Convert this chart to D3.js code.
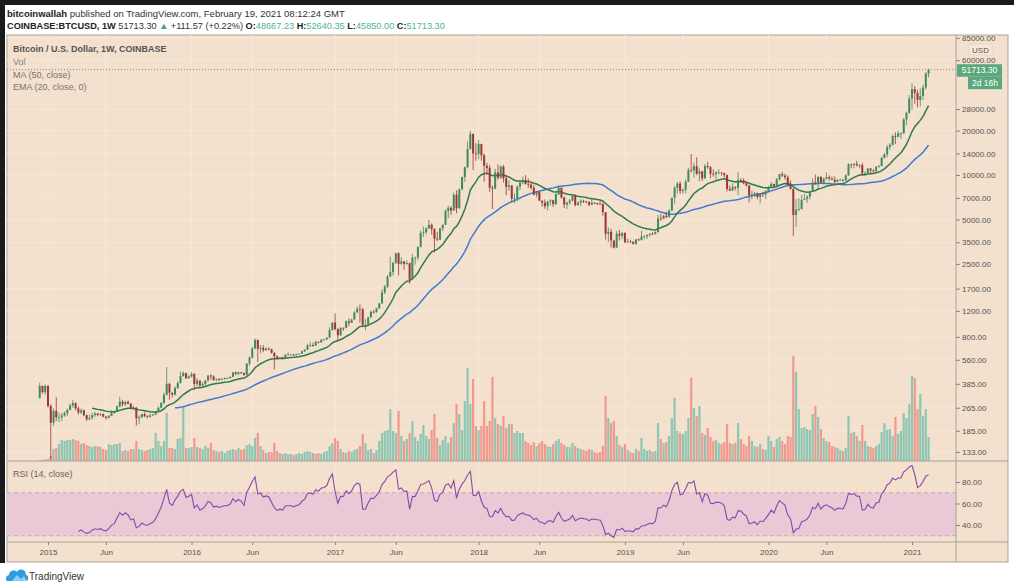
<!DOCTYPE html>
<html>
<head>
<meta charset="utf-8">
<script src="https://cdn.jsdelivr.net/npm/d3@7"></script>
<style>
  body { margin: 0; background: #fff; }
  svg { display: block; font-family: "Liberation Sans", Arial, sans-serif; }
</style>
</head>
<body>
<div id="chart"></div>
<script>
// weekly COINBASE:BTCUSD bars, first bar is the week of 2014-12-15
var firstWeek = "2014-12-15";
var firstOpen = 310;

var closes = [
  372, 338, 372,
  // 2015
  272, 210, 252, 228, 228, 235, 244, 256, 275, 285, 262, 246, 254, 236, 222, 226, 236, 242, 237, 240, 230,
  226, 233, 245, 250, 270, 291, 280, 290, 282, 262, 265, 225, 229, 240, 232, 230, 235, 238, 248, 265, 285, 325,
  385, 335, 325, 360, 390, 435, 455, 420, 432,
  // 2016
  448, 383, 405, 375, 384, 405, 438, 432, 410, 416, 410, 416, 420, 420, 429, 460, 449, 462, 456, 442, 528, 580,
  668, 762, 665, 675, 650, 665, 660, 625, 590, 570, 580, 574, 606, 608, 608, 602, 612, 617, 640, 655, 700, 705,
  700, 740, 735, 765, 770, 790, 890, 1000,
  // 2017
  905, 822, 922, 920, 1020, 997, 1050, 1170, 1240, 1230, 965, 965, 1085, 1185, 1180, 1250, 1350,
  1600, 1750, 2050, 2200, 2550, 2950, 2500, 2600, 2500, 2530, 1950, 2750, 2760, 3250,
  4050, 4100, 4350, 4600, 4300, 3700, 3650, 4350, 4600, 5700, 6000, 5750, 7350,
  5950, 8000, 9700, 11300, 15000, 19000, 14000, 13900,
  // 2018
  16200, 13600, 11550, 11200, 8200, 8100, 10400, 9600, 11400, 9500, 8300, 8500, 6900,
  6950, 8340, 8900, 9250, 8700, 8600, 8200, 7360, 7700, 6700, 6500, 6150, 6620,
  6750, 6350, 7400, 8200, 7050, 6300, 6500, 6700, 7290, 6250, 6500, 6700, 6600,
  6550, 6280, 6480, 6450, 6380, 6350, 5600, 4000, 4120, 3600, 3220, 4000, 3870, 4050,
  // 2019
  3510, 3540, 3530, 3420, 3660, 3620, 3830, 3850, 3930, 4000, 3980, 4100,
  5070, 5060, 5300, 5200, 5750, 7000, 8200, 8750, 7800, 7950, 9000, 10800, 10750,
  11470, 10200, 10580, 9500, 11500, 11300, 10200, 10140, 10400,
  10400, 10300, 10000, 8050, 7850, 8300, 8200, 9250, 9200, 8800, 8500, 7300, 7400,
  7520, 7100, 7500, 7400, 7760,
  // 2020
  8180, 8700, 8400, 9330, 10150, 9920, 9660, 8530, 8030, 5360, 5820, 5880, 6780,
  6910, 7130, 7700, 8900, 8700, 9700, 8900, 9450, 9670, 9450, 9300, 9000, 9280,
  9300, 9200, 9950, 11800, 11700, 11900, 11650, 11650, 10250, 10330, 11080, 10740, 10670,
  11380, 11500, 13030, 13800, 15480, 16050, 18370, 18180, 19150, 19150, 23850, 26450, 32980,
  // 2021
  38200, 36000, 32280, 34300, 39250, 48667.23, 51713.30
];

var highs = [
  392, 376, 382,
  378, 280, 262, 312, 245, 245, 250, 262, 282, 298, 288, 270, 262, 258, 238, 238, 245, 248, 245, 244, 242,
  232, 237, 255, 252, 274, 315, 300, 295, 297, 285, 273, 268, 236, 241, 247, 236, 241, 241, 250, 270, 290, 335,
  500, 390, 335, 370, 400, 465, 468, 458, 440,
  462, 455, 420, 400, 395, 408, 440, 445, 440, 418, 420, 420, 426, 424, 432, 462, 467, 465, 462, 458, 530, 590,
  685, 780, 770, 705, 705, 680, 680, 665, 628, 600, 585, 585, 610, 628, 612, 612, 615, 620, 644, 660, 720, 740,
  730, 755, 745, 775, 778, 795, 930, 1005,
  1155, 915, 925, 925, 1035, 1070, 1060, 1195, 1290, 1330, 1260, 1060, 1100, 1210, 1215, 1260, 1360,
  1680, 1800, 2100, 2790, 2580, 2980, 3000, 2780, 2600, 2640, 2550, 2920, 2800, 3290,
  4200, 4480, 4450, 4980, 4700, 4370, 4100, 4390, 4620, 5860, 6200, 6140, 7600,
  7870, 8100, 9720, 11400, 16900, 19891, 19050, 16500,
  17250, 16300, 14000, 12100, 11700, 8500, 11000, 11800, 11600, 11700, 9950, 9180, 8500,
  7500, 8500, 9050, 9750, 9980, 9450, 8900, 8520, 7760, 7750, 6730, 6830, 6680,
  6850, 6800, 7530, 8500, 8200, 7150, 6590, 6880, 7400, 7420, 6630, 6850, 6800,
  6680, 6640, 7000, 6560, 6480, 6630, 6470, 5600, 4420, 4320, 3600, 4180, 4250, 4100,
  4100, 3720, 3640, 3560, 3680, 3720, 4200, 3900, 3950, 4020, 4100, 4150,
  5350, 5470, 5350, 5640, 5850, 7050, 8390, 8950, 9090, 8120, 9350, 11200, 13880,
  12100, 13200, 11100, 10660, 11880, 12300, 11500, 10950, 10650,
  10900, 10450, 10350, 10050, 8500, 8800, 8400, 10500, 9500, 9500, 8850, 8500, 7850,
  7700, 7600, 7520, 7700, 7900,
  8450, 9000, 8750, 9560, 10160, 10500, 10200, 9960, 9200, 8180, 6900, 6980, 7300,
  7460, 7290, 7800, 9480, 10070, 9900, 9850, 9600, 10430, 9970, 9800, 9800, 9380,
  9470, 9350, 10100, 12050, 11950, 12050, 12480, 11800, 12090, 10580, 11100, 10800, 10960,
  11480, 11730, 13350, 14100, 15960, 16480, 18800, 19480, 19920, 19400, 24300, 26850, 34800,
  41950, 40100, 37850, 38600, 40950, 49700, 52640.35
];

var lows = [
  305, 330, 325,
  265, 118, 200, 215, 212, 215, 230, 232, 255, 265, 255, 238, 240, 232, 215, 218, 220, 230, 232, 233, 228,
  220, 224, 232, 240, 248, 266, 270, 272, 280, 258, 255, 200, 205, 225, 228, 224, 227, 232, 236, 245, 262, 280,
  320, 300, 312, 320, 355, 385, 430, 415, 418,
  425, 360, 370, 366, 364, 370, 400, 410, 402, 400, 402, 406, 410, 415, 418, 428, 440, 440, 448, 436, 438, 510,
  570, 660, 540, 620, 630, 645, 650, 615, 480, 565, 565, 565, 568, 600, 600, 594, 598, 608, 615, 630, 652, 680,
  685, 695, 725, 730, 755, 765, 790, 885,
  885, 755, 810, 880, 915, 945, 995, 1050, 1170, 1000, 940, 890, 955, 1080, 1155, 1165, 1240,
  1340, 1560, 1720, 2050, 2080, 2490, 2090, 2450, 2280, 2460, 1830, 1950, 2470, 2660,
  3250, 3800, 3950, 4310, 3950, 2980, 3560, 3620, 4170, 4600, 5100, 5370, 5800,
  5510, 6500, 7900, 9000, 11100, 14900, 10800, 12500,
  12800, 12500, 9000, 10000, 7700, 5870, 8000, 9300, 9400, 8900, 7300, 7800, 6580,
  6440, 6620, 7900, 8660, 8600, 8180, 7950, 7270, 7050, 6650, 6090, 5900, 5750,
  6220, 6070, 6260, 7300, 6900, 5970, 5880, 6280, 6650, 6120, 6220, 6150, 6450,
  6460, 6150, 6300, 6380, 6250, 6320, 5300, 3650, 3500, 3230, 3180, 3220, 3600, 3680,
  3450, 3480, 3470, 3370, 3360, 3560, 3610, 3670, 3690, 3820, 3940, 3950,
  4100, 4900, 5020, 5100, 5150, 5680, 6400, 7500, 7450, 7450, 7540, 8950, 10400,
  9630, 9960, 9070, 9120, 9400, 11000, 9500, 9750, 9350,
  10100, 9900, 9620, 7720, 7770, 7780, 7880, 7300, 8970, 8660, 8350, 6520, 6860,
  7080, 6850, 6430, 7100, 6880,
  7720, 8100, 8240, 8270, 9160, 9700, 9280, 8410, 8000, 3860, 4440, 5700, 5850,
  6750, 6470, 6840, 7700, 8600, 8100, 8800, 8630, 9300, 9150, 9220, 8830, 8950,
  9130, 9000, 9130, 9900, 11080, 11130, 11390, 11130, 9880, 9830, 10200, 10130, 10370,
  10520, 11200, 11460, 12980, 13200, 14830, 15780, 16200, 18000, 17600, 19000, 21800, 26000,
  27700, 30400, 28750, 29200, 32300, 37990, 45850
];

// weekly volume, thousand BTC
var volumes = [
  2, 2, 3,
  4, 10, 24, 26, 34, 42, 40, 42, 42, 44, 42, 40, 34, 36, 32, 30, 28, 30, 30, 28, 24, 22, 34, 32,
  34, 34, 36, 20, 22, 20, 24, 24, 40, 24, 22, 20, 22, 24, 26, 56, 40, 30, 40, 96, 26, 26, 24, 44, 46, 110, 26, 26,
  28, 46, 28, 26, 24, 30, 26, 36, 22, 20, 18, 20, 16, 20, 22, 24, 22, 26, 22, 24, 32, 34, 30, 46, 56, 30,
  22, 16, 18, 18, 36, 20, 16, 14, 16, 14, 14, 12, 14, 16, 14, 18, 20, 18, 16, 14, 16, 14, 18, 20, 30, 36,
  46, 40, 24, 18, 16, 20, 18, 22, 24, 30, 54, 36, 22, 24, 16, 22, 40, 56, 60, 62, 104, 60, 56, 100, 50, 40,
  44, 56, 80, 48, 40, 54, 72, 50, 44, 62, 94, 46, 32, 42, 50, 36, 48, 76, 114, 94, 62, 120, 186, 114, 164, 70,
  62, 70, 120, 70, 80, 168, 86, 74, 70, 90, 66, 74, 74, 56, 60, 56, 56, 40, 36, 32, 38, 30, 36, 40, 34, 30,
  28, 34, 40, 44, 36, 32, 28, 28, 36, 30, 26, 24, 22, 20, 24, 22, 18, 16, 18, 30, 130, 86, 76, 80, 50, 32, 28,
  34, 22, 18, 16, 24, 20, 46, 24, 20, 22, 18, 20, 76, 44, 36, 38, 50, 86, 126, 60, 56, 54, 60, 86, 166, 106,
  90, 110, 56, 52, 66, 48, 40, 42, 36, 34, 38, 74, 36, 34, 36, 76, 44, 34, 30, 50, 40, 30, 28, 34, 24, 22,
  50, 40, 28, 44, 48, 40, 34, 50, 48, 210, 178, 104, 66, 68, 64, 62, 94, 110, 88, 64, 46, 40, 38, 30, 28, 26,
  22, 20, 26, 90, 56, 58, 50, 40, 72, 40, 30, 28, 26, 30, 34, 58, 76, 62, 64, 50, 88, 54, 60, 96, 86, 114,
  170, 166, 104, 134, 90, 104, 48
];

// 40000 sits under the countdown box in the reference, so it is left out
var priceTicks = [85000, 60000, 28000, 20000, 14000, 10000, 7000, 5000, 3500, 2500, 1700, 1200, 800, 560, 385, 265, 185, 133];
var rsiTicks = [80, 60, 40];
var timeTickDates = ["2015-01-05", "2015-06-01", "2016-01-04", "2016-06-06", "2017-01-02", "2017-06-05", "2018-01-01",
                     "2018-06-04", "2019-01-07", "2019-06-03", "2020-01-06", "2020-06-01", "2021-01-04"];
var timeTickLabels = ["2015", "Jun", "2016", "Jun", "2017", "Jun", "2018", "Jun", "2019", "Jun", "2020", "Jun", "2021"];

var W = 1014, H = 583;
var paneL = 7, paneR = 1008, paneT = 35, paneB = 562;
var plotR = 956, priceB = 461, rsiB = 542;

var upColor = "#3f8b5d", downColor = "#9c3832";
var volUp = "#8fc6b3", volDown = "#f0998e";

var parse = d3.utcParse("%Y-%m-%d");
var start = parse(firstWeek);
var weeks = d3.utcMonday.range(start, d3.utcDay.offset(start, 7 * closes.length));

var bars = closes.map(function (c, i) {
  var o = i ? closes[i - 1] : firstOpen;
  return {
    date: weeks[i], open: o, close: c,
    high: Math.max(highs[i], o, c), low: Math.min(lows[i], o, c),
    volume: volumes[i]
  };
});

// indicators
function sma(vals, n) {
  return vals.map(function (v, i) {
    return i < n - 1 ? null : d3.mean(vals.slice(i - n + 1, i + 1));
  });
}
function ema(vals, n) {
  var k = 2 / (n + 1), out = [], prev = null;
  vals.forEach(function (v, i) {
    if (i < n - 1) { out.push(null); return; }
    prev = prev === null ? d3.mean(vals.slice(0, n)) : v * k + prev * (1 - k);
    out.push(prev);
  });
  return out;
}
function rsi(vals, n) {
  var out = vals.map(function () { return null; });
  var g = 0, l = 0;
  for (var i = 1; i <= n; i++) { var d = vals[i] - vals[i - 1]; if (d > 0) g += d; else l -= d; }
  g /= n; l /= n;
  out[n] = 100 - 100 / (1 + g / l);
  for (var j = n + 1; j < vals.length; j++) {
    var dd = vals[j] - vals[j - 1];
    g = (g * (n - 1) + Math.max(dd, 0)) / n;
    l = (l * (n - 1) + Math.max(-dd, 0)) / n;
    out[j] = l === 0 ? 100 : 100 - 100 / (1 + g / l);
  }
  return out;
}
var ma50 = sma(closes, 50), ema20 = ema(closes, 20), rsi14 = rsi(closes, 14);

// scales
var x = d3.scaleUtc().domain([parse("2015-01-05"), parse("2021-01-04")]).range([48, 912]);
var y = d3.scaleLog().domain([120, 90000]).range([458.5, 34.2]);
var yVol = d3.scaleLinear().domain([0, d3.max(volumes)]).range([priceB, priceB - 105]);
var yRsi = d3.scaleLinear().domain([0, 100]).range([568, 460.5]);

var svg = d3.select("#chart").append("svg").attr("width", W).attr("height", H);
svg.append("rect").attr("width", W).attr("height", H).attr("fill", "#fff");
svg.append("rect").attr("width", W).attr("height", 5).attr("fill", "#1b1b1b");
svg.append("rect").attr("width", 5).attr("height", 563).attr("fill", "#1b1b1b");

// header
var h1 = svg.append("text").attr("x", 7).attr("y", 17).attr("font-size", 9.5).attr("fill", "#333");
h1.append("tspan").attr("font-weight", "bold").attr("fill", "#222").text("bitcoinwallah");
h1.append("tspan").text(" published on TradingView.com, February 19, 2021 08:12:24 GMT");

var h2 = svg.append("text").attr("x", 7).attr("y", 29).attr("font-size", 9.2).attr("fill", "#333");
var teal = "#4fb39c";
[["COINBASE:BTCUSD, 1W", "#222", "bold"], [" 51713.30 ", "#333", null], ["▲", "#3aa57a", null],
 [" +111.57 (+0.22%) ", "#333", null], ["O:", "#222", "bold"], ["48667.23", teal, null],
 [" H:", "#222", "bold"], ["52640.35", teal, null], [" L:", "#222", "bold"], ["45850.00", teal, null],
 [" C:", "#222", "bold"], ["51713.30", teal, null]].forEach(function (p) {
  h2.append("tspan").attr("fill", p[1]).attr("font-weight", p[2]).text(p[0]);
});

// pane
svg.append("rect").attr("x", paneL).attr("y", paneT).attr("width", paneR - paneL).attr("height", paneB - paneT)
  .attr("fill", "#f3e0cd").attr("stroke", "#a9a29a");

var defs = svg.append("defs");
defs.append("clipPath").attr("id", "clipPrice").append("rect")
  .attr("x", paneL).attr("y", paneT).attr("width", plotR - paneL).attr("height", priceB - paneT);
defs.append("clipPath").attr("id", "clipRsi").append("rect")
  .attr("x", paneL).attr("y", priceB).attr("width", plotR - paneL).attr("height", rsiB - priceB);
defs.append("clipPath").attr("id", "clipAxis").append("rect")
  .attr("x", plotR).attr("y", paneT).attr("width", paneR - plotR).attr("height", priceB - paneT);

// grid
var grid = svg.append("g").attr("stroke", "#f7e8da").attr("stroke-width", 1);
grid.selectAll("line.v").data(timeTickDates).join("line")
  .attr("x1", function (d) { return x(parse(d)); }).attr("x2", function (d) { return x(parse(d)); })
  .attr("y1", paneT).attr("y2", rsiB);
grid.selectAll("line.h").data(priceTicks).join("line")
  .attr("x1", paneL).attr("x2", plotR).attr("y1", function (d) { return y(d); }).attr("y2", function (d) { return y(d); })
  .attr("clip-path", "url(#clipPrice)");

// rsi band
svg.append("rect").attr("x", paneL).attr("width", plotR - paneL)
  .attr("y", yRsi(70)).attr("height", yRsi(30) - yRsi(70)).attr("fill", "#e9c9d5");
svg.selectAll("line.band").data([70, 30]).join("line")
  .attr("x1", paneL).attr("x2", plotR).attr("y1", function (d) { return yRsi(d); }).attr("y2", function (d) { return yRsi(d); })
  .attr("stroke", "#d2a3b9").attr("stroke-dasharray", "4,3");

var price = svg.append("g").attr("clip-path", "url(#clipPrice)");

// volume
price.append("g").selectAll("rect").data(bars).join("rect")
  .attr("x", function (d) { return x(d.date) - 1.1; })
  .attr("width", 2.2)
  .attr("y", function (d) { return yVol(d.volume); })
  .attr("height", function (d) { return priceB - yVol(d.volume); })
  .attr("fill", function (d) { return d.close >= d.open ? volUp : volDown; });

// moving averages
function lineOf(vals) {
  return d3.line().defined(function (d, i) { return vals[i] !== null; })
    .x(function (d) { return x(d.date); }).y(function (d, i) { return y(vals[i]); });
}
price.append("path").datum(bars).attr("d", lineOf(ma50)).attr("fill", "none")
  .attr("stroke", "#417bd2").attr("stroke-width", 1.5);
price.append("path").datum(bars).attr("d", lineOf(ema20)).attr("fill", "none")
  .attr("stroke", "#2d7b4c").attr("stroke-width", 1.5);

// candles
var candles = price.append("g").selectAll("g").data(bars).join("g");
candles.append("line")
  .attr("x1", function (d) { return x(d.date); }).attr("x2", function (d) { return x(d.date); })
  .attr("y1", function (d) { return y(d.high); }).attr("y2", function (d) { return y(d.low); })
  .attr("stroke", function (d) { return d.close >= d.open ? upColor : downColor; })
  .attr("stroke-width", 0.8);
candles.append("rect")
  .attr("x", function (d) { return x(d.date) - 1; })
  .attr("width", 2)
  .attr("y", function (d) { return y(Math.max(d.open, d.close)); })
  .attr("height", function (d) { return Math.max(0.8, Math.abs(y(d.open) - y(d.close))); })
  .attr("fill", function (d) { return d.close >= d.open ? upColor : downColor; });

// last price line
var last = bars[bars.length - 1];
svg.append("line").attr("x1", paneL).attr("x2", plotR).attr("y1", y(last.close)).attr("y2", y(last.close))
  .attr("stroke", "#8a8580").attr("stroke-dasharray", "1,2");

// rsi line
svg.append("path").datum(bars).attr("clip-path", "url(#clipRsi)")
  .attr("d", d3.line().defined(function (d, i) { return rsi14[i] !== null; })
    .x(function (d) { return x(d.date); }).y(function (d, i) { return yRsi(rsi14[i]); }))
  .attr("fill", "none").attr("stroke", "#8b47aa").attr("stroke-width", 1.1);

// separators
var sep = svg.append("g").attr("stroke", "#a9a29a");
sep.append("line").attr("x1", paneL).attr("x2", paneR).attr("y1", priceB).attr("y2", priceB);
sep.append("line").attr("x1", paneL).attr("x2", paneR).attr("y1", rsiB).attr("y2", rsiB);
sep.append("line").attr("x1", plotR).attr("x2", plotR).attr("y1", paneT).attr("y2", paneB);

// axes
function styleAxis(g) {
  g.select(".domain").remove();
  g.selectAll("line").attr("stroke", "#8a847c");
  g.selectAll("text").attr("fill", "#555").attr("font-size", 8).attr("font-family", "Liberation Sans, Arial, sans-serif");
}
svg.append("g").attr("clip-path", "url(#clipAxis)")
  .append("g").attr("transform", "translate(" + plotR + ",0)")
  .call(d3.axisRight(y).tickValues(priceTicks).tickFormat(d3.format(".2f")).tickSize(4).tickPadding(2))
  .call(styleAxis);
svg.append("g").attr("transform", "translate(" + plotR + ",0)")
  .call(d3.axisRight(yRsi).tickValues(rsiTicks).tickFormat(d3.format(".2f")).tickSize(4).tickPadding(2))
  .call(styleAxis);
svg.append("g").attr("transform", "translate(0," + rsiB + ")")
  .call(d3.axisBottom(x).tickValues(timeTickDates.map(parse))
    .tickFormat(function (d, i) { return timeTickLabels[i]; }).tickSize(3).tickPadding(4))
  .call(styleAxis);

// price axis labels
svg.append("rect").attr("x", 969).attr("y", 44).attr("width", 23).attr("height", 11)
  .attr("fill", "#f6e7d8").attr("stroke", "#e6d6c6");
svg.append("text").attr("x", 980.5).attr("y", 52.5).attr("text-anchor", "middle")
  .attr("font-size", 8).attr("fill", "#555").text("USD");
var ly = y(last.close);
svg.append("rect").attr("x", 957).attr("y", ly - 5.5).attr("width", 45).attr("height", 12.5).attr("fill", "#5aa87c");
svg.append("text").attr("x", 979.5).attr("y", ly + 3.5).attr("text-anchor", "middle")
  .attr("font-size", 8.5).attr("fill", "#fff").text(d3.format(".2f")(last.close));
svg.append("rect").attr("x", 968).attr("y", ly + 7).attr("width", 34).attr("height", 12.5).attr("fill", "#5aa87c");
svg.append("text").attr("x", 985).attr("y", ly + 16).attr("text-anchor", "middle")
  .attr("font-size", 8.5).attr("fill", "#fff").text("2d 16h");

// legend
var leg = svg.append("g").attr("font-size", 9);
leg.append("text").attr("x", 13).attr("y", 52).attr("fill", "#555").attr("font-weight", "bold")
  .text("Bitcoin / U.S. Dollar, 1W, COINBASE");
leg.append("text").attr("x", 13).attr("y", 65).attr("fill", "#8a8580").text("Vol");
leg.append("text").attr("x", 13).attr("y", 77.5).attr("fill", "#7a7570").text("MA (50, close)");
leg.append("text").attr("x", 13).attr("y", 90).attr("fill", "#7a7570").text("EMA (20, close, 0)");
leg.append("text").attr("x", 13).attr("y", 477).attr("fill", "#666").text("RSI (14, close)");

// TradingView mark
var logo = svg.append("g");
logo.append("path").attr("fill", "#2f9be0")
  .attr("d", "M8,581 C5,581 5,576 9,575 C9,571 14,569 17,572 C19,568 26,569 26,575 C29,575 29,581 26,581 Z");
logo.append("path").attr("fill", "#8fd0f2")
  .attr("d", "M12,581 L17,575 L21,579 L24,576 L27,581 Z");
svg.append("text").attr("x", 29).attr("y", 580).attr("font-size", 10).attr("fill", "#333").text("TradingView");
</script>
</body>
</html>
